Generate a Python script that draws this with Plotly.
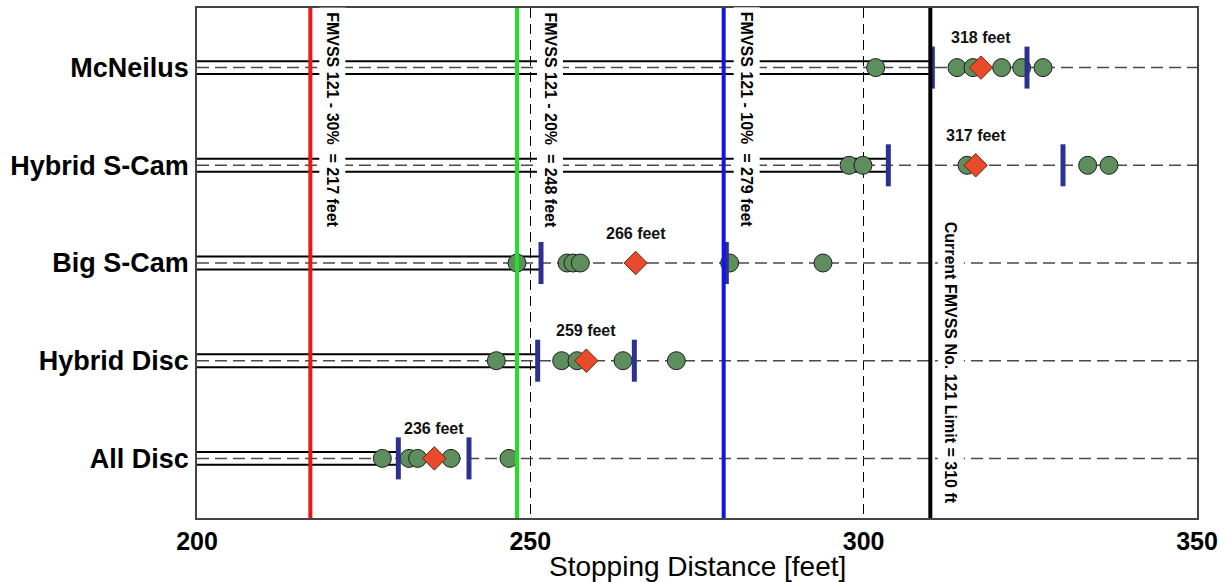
import plotly.graph_objects as go

# ---------------- data ----------------
categories = ["All Disc", "Hybrid Disc", "Big S-Cam", "Hybrid S-Cam", "McNeilus"]

runs_all_disc = [227.8, 231.8, 233.1, 238.1, 246.8]
runs_hybrid_disc = [244.9, 254.7, 257.0, 263.9, 271.9]
runs_big_scam = [248.0, 255.5, 256.4, 257.5, 279.9, 293.9]
runs_hybrid_scam = [297.8, 299.9, 315.5, 333.6, 336.8]
runs_mcneilus = [301.8, 314.0, 316.4, 320.7, 323.7, 326.9]
runs = [runs_all_disc, runs_hybrid_disc, runs_big_scam, runs_hybrid_scam, runs_mcneilus]

means = [235.6, 258.4, 265.8, 316.8, 317.6]
mean_labels = ["236 feet", "259 feet", "266 feet", "317 feet", "318 feet"]
lower_bounds = [230.2, 251.1, 251.6, 303.7, 310.3]
upper_bounds = [240.8, 265.6, 279.4, 329.9, 324.5]

ref_values = [217, 248, 279, 310]
ref_labels = ["FMVSS 121 - 30%  = 217 feet",
              "FMVSS 121 - 20%  = 248 feet",
              "FMVSS 121 - 10%  = 279 feet",
              "Current FMVSS No. 121 Limit = 310 ft"]

x_ticks = [200, 250, 300, 350]
x_title = "Stopping Distance [feet]"

# ---------------- styles ----------------
X_MIN, X_MAX = 200, 350
Y_RANGE = [-0.61, 4.61]
DOUBLE_OFF = 0.066
ref_colors = ["#e81818", "#22e022", "#1414e6", "#000000"]
ref_xshift = [22, 33, 23, 21]
GREEN = "#5e8e5e"
RED = "#e84a2c"
NAVY = "#2c3190"
FONT = "Liberation Sans, Arial, sans-serif"

fig = go.Figure()

# dashed center lines across the full width
for i, cat in enumerate(categories):
    fig.add_trace(go.Scatter(x=[X_MIN, X_MAX], y=[i, i], mode="lines",
                             line=dict(color="#4a4a4a", width=1.5, dash="12px,6px"),
                             hoverinfo="skip", showlegend=False))

# double lines from left edge to lower bound
for i, lb in enumerate(lower_bounds):
    for off in (-DOUBLE_OFF, DOUBLE_OFF):
        fig.add_trace(go.Scatter(x=[X_MIN, lb], y=[i + off, i + off], mode="lines",
                                 line=dict(color="#000000", width=2),
                                 hoverinfo="skip", showlegend=False))

# individual runs
for i, r in enumerate(runs):
    fig.add_trace(go.Scatter(x=r, y=[i] * len(r), mode="markers",
                             marker=dict(symbol="circle", size=18, color=GREEN,
                                         line=dict(color="#1e1e1e", width=1)),
                             showlegend=False, name=categories[i]))

# bounds bars
fig.add_trace(go.Scatter(x=lower_bounds + upper_bounds,
                         y=list(range(len(categories))) * 2, mode="markers",
                         marker=dict(symbol="line-ns", size=30,
                                     line=dict(color=NAVY, width=5)),
                         showlegend=False))

# means
fig.add_trace(go.Scatter(x=means, y=list(range(len(categories))), mode="markers",
                         marker=dict(symbol="diamond", size=18, color=RED,
                                     line=dict(color="#6a2412", width=1)),
                         showlegend=False))

# reference vertical lines
for v, c in zip(ref_values, ref_colors):
    fig.add_trace(go.Scatter(x=[v, v], y=Y_RANGE, mode="lines",
                             line=dict(color=c, width=4),
                             hoverinfo="skip", showlegend=False))

annotations = []
for k, (v, lab) in enumerate(zip(ref_values, ref_labels)):
    last = k == len(ref_values) - 1
    annotations.append(dict(
        x=v, xref="x", y=0 if last else 1, yref="paper",
        yanchor="bottom" if last else "top", xanchor="center",
        xshift=ref_xshift[k], yshift=9 if last else 1,
        text="<b>%s</b>" % lab, textangle=90, showarrow=False,
        bgcolor="white", borderpad=4,
        font=dict(family=FONT, size=16, color="black")))

for i, (m, lab) in enumerate(zip(means, mean_labels)):
    annotations.append(dict(x=m, y=i, xref="x", yref="y", yshift=30,
                            text="<b>%s</b>" % lab, showarrow=False,
                            font=dict(family=FONT, size=16, color="#111")))

annotations.append(dict(x=0.5, xref="paper", y=0, yref="paper", yshift=-48,
                        yanchor="middle", text=x_title, showarrow=False,
                        font=dict(family=FONT, size=28, color="black")))

fig.update_layout(
    width=1227, height=582,
    margin=dict(l=197, r=30, t=8, b=64, autoexpand=False),
    paper_bgcolor="white", plot_bgcolor="white",
    showlegend=False,
    annotations=annotations,
    xaxis=dict(range=[X_MIN, X_MAX], tickvals=x_ticks,
               ticktext=["<b>%d</b>" % t for t in x_ticks],
               tickfont=dict(family=FONT, size=25, color="black"),
               showgrid=True, gridcolor="#000000", gridwidth=1.2, griddash="10px,6px",
               showline=True, linecolor="#444", linewidth=1.5, mirror=True,
               zeroline=False, ticks="", automargin=False, ticklabelstandoff=0),
    yaxis=dict(range=Y_RANGE, tickvals=list(range(len(categories))),
               ticktext=["<b>%s</b>" % c for c in categories],
               tickfont=dict(family=FONT, size=27, color="black"),
               showgrid=False, showline=True, linecolor="#444", linewidth=1.5,
               mirror=True, zeroline=False, ticks="", ticklabelstandoff=1,
               automargin=False),
)

fig.write_html("out.html")
